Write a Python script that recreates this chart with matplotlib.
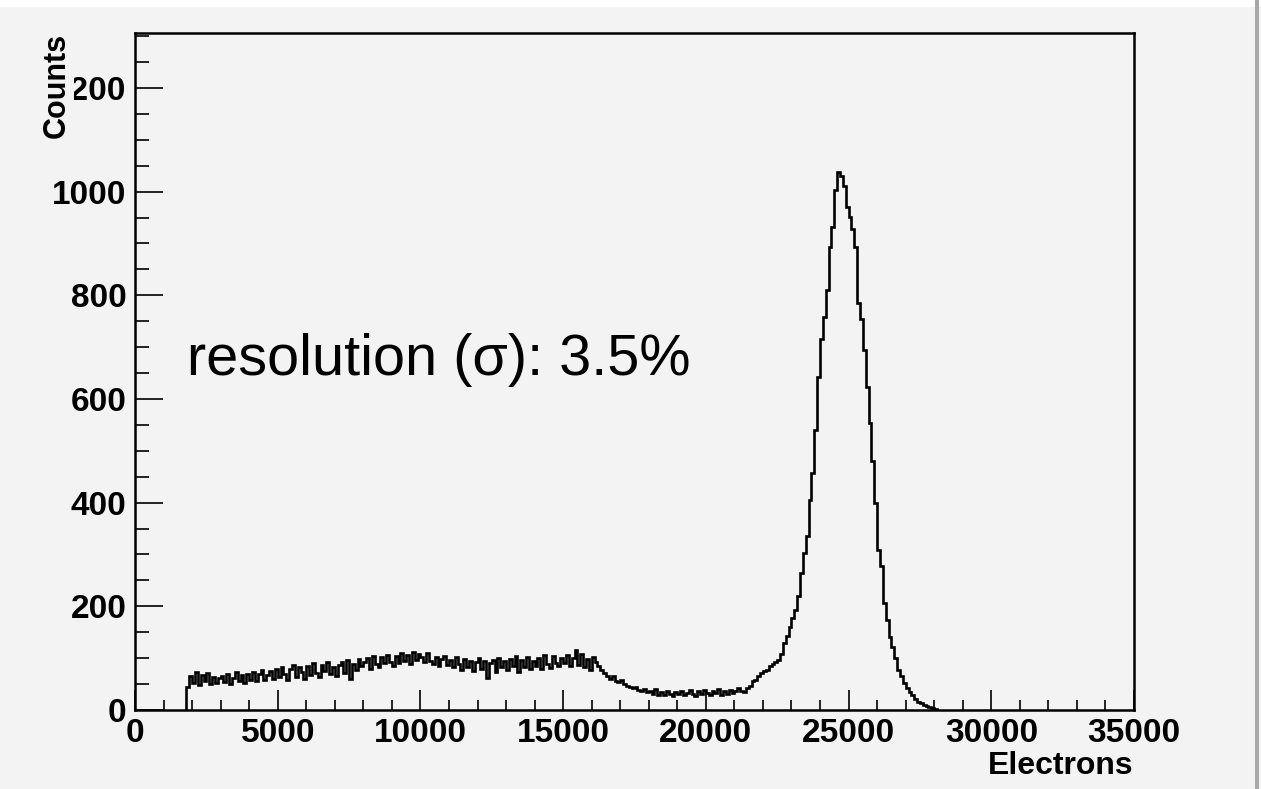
# Electron spectrum histogram with the resolution quoted on the plot.

import numpy as np
import matplotlib
matplotlib.use("Agg")
import matplotlib.pyplot as plt
from matplotlib.ticker import MultipleLocator
from matplotlib.patches import Rectangle

# histogram binning (electrons)
bin_lo = 1800
bin_width = 100

# counts per bin, one line per 1000 electrons
counts = [
    44, 66,                                               # 1800-2000
    52, 74, 48, 68, 56, 72, 50, 64, 52, 62,               # 2000
    66, 54, 70, 51, 62, 73, 55, 67, 53, 69,               # 3000
    58, 74, 55, 70, 77, 57, 68, 76, 60, 79,               # 4000
    64, 83, 70, 58, 80, 86, 63, 82, 74, 60,               # 5000
    84, 68, 90, 72, 64, 86, 75, 92, 70, 82,               # 6000
    66, 87, 93, 72, 97, 60, 89, 78, 98, 84,               # 7000
    92, 101, 80, 104, 88, 83, 102, 90, 106, 93,           # 8000
    85, 104, 91, 110, 95, 106, 89, 112, 97, 108,          # 9000
    102, 92, 109, 95, 88, 103, 84, 99, 105, 87,           # 10000
    97, 83, 102, 88, 78, 99, 82, 95, 75, 92,              # 11000
    101, 80, 94, 62, 91, 97, 74, 100, 82, 94,             # 12000
    78, 99, 84, 104, 74, 96, 82, 102, 79, 95,             # 13000
    85, 101, 80, 106, 88, 81, 104, 91, 84, 101,           # 14000
    90, 106, 84, 100, 116, 87, 108, 82, 98, 78,           # 15000
    103, 92, 85, 78, 72, 66, 60, 65, 56, 54,              # 16000
    57, 50, 47, 44, 42, 45, 38, 36, 41, 34,               # 17000
    37, 31, 40, 29, 35, 28, 37, 31, 27, 35,               # 18000
    30, 37, 28, 33, 39, 31, 27, 36, 30, 38,               # 19000
    32, 28, 37, 33, 40, 29, 36, 31, 39, 33,               # 20000
    37, 43, 37, 34, 42, 47, 55, 58, 66, 71,               # 21000
    75, 78, 84, 88, 93, 97, 108, 129, 142, 161,           # 22000
    178, 193, 219, 264, 302, 335, 405, 457, 540, 643,     # 23000
    715, 759, 811, 894, 932, 1004, 1037, 1030, 1010, 970, # 24000
    951, 927, 894, 785, 755, 695, 624, 554, 480, 400,     # 25000
    309, 277, 206, 174, 140, 122, 100, 77, 66, 52,        # 26000
    42, 34, 29, 22, 16, 13, 10, 8, 6, 4,                  # 27000
    2,                                                    # 28000
]

resolution_text = "resolution (\u03c3): 3.5%"
x_label = "Electrons"
y_label = "Counts"
x_max = 35000
y_max = 1306

bg = "#f3f3f3"
plt.rcParams['font.family'] = ['Liberation Sans', 'DejaVu Sans']

fig = plt.figure(figsize=(12.61, 7.89), dpi=100, facecolor=bg)
ax = fig.add_axes([135/1261, 1-710/789, (1134-135)/1261, (710-33)/789])
ax.set_facecolor(bg)

# screen border bits around the canvas
fig.patches.append(Rectangle((0, 1-7/789), 1, 7/789, transform=fig.transFigure,
                             facecolor="white", edgecolor="none", zorder=0))
fig.patches.append(Rectangle((1255/1261, 0), 4/1261, 1, transform=fig.transFigure,
                             facecolor="#a8a8a8", edgecolor="none", zorder=0))

edges = bin_lo + bin_width*np.arange(len(counts)+1)
ax.stairs(counts, edges, color="black", linewidth=1.9, baseline=0)

ax.set_xlim(0, x_max)
ax.set_ylim(0, y_max)
ax.xaxis.set_major_locator(MultipleLocator(5000))
ax.xaxis.set_minor_locator(MultipleLocator(1000))
ax.yaxis.set_major_locator(MultipleLocator(200))
ax.yaxis.set_minor_locator(MultipleLocator(50))

ax.tick_params(axis="x", which="major", direction="in", length=14.5, width=1.2, pad=6)
ax.tick_params(axis="x", which="minor", direction="in", length=7.2, width=1.2)
ax.tick_params(axis="y", which="major", direction="in", length=20, width=1.2, pad=6)
ax.tick_params(axis="y", which="minor", direction="in", length=10, width=1.2)
ax.tick_params(top=False, right=False, which="both")
for lab in ax.get_xticklabels() + ax.get_yticklabels():
    lab.set_fontsize(24)
    lab.set_fontweight("bold")

for side in ax.spines.values():
    side.set_linewidth(1.8)

ax.text(1820, 675, resolution_text, fontsize=41.5, ha="left", va="center")

fig.text(1134/1261, 1-766/789, x_label, fontsize=23, fontweight="bold",
         ha="right", va="center")
# the y title sits over the leading digit of the top label
fig.text(57/1261, 1-33/789, y_label, fontsize=22, fontweight="bold", rotation=90,
         ha="center", va="top", zorder=5,
         bbox=dict(facecolor=bg, edgecolor="none", pad=1.5))

fig.savefig("out.png", dpi=100, facecolor=bg)
